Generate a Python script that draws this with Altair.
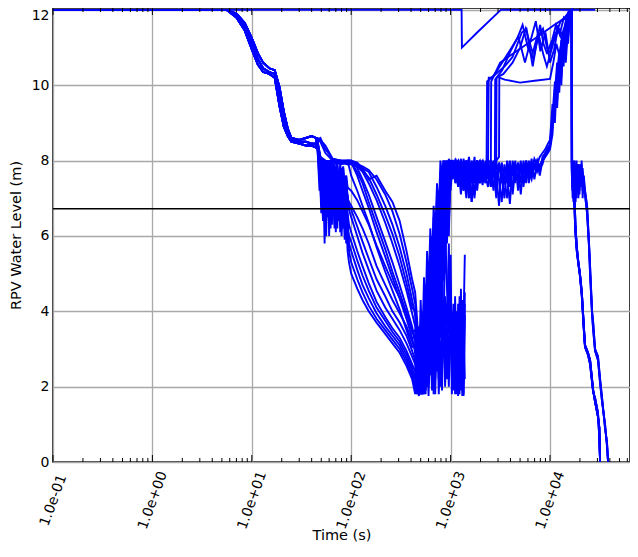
import altair as alt
import pandas as pd

# ---------------- axis / reference values ----------------
x_major = [0.1, 1, 10, 100, 1000, 10000]
x_labels = ["1.0e-01", "1.0e+00", "1.0e+01", "1.0e+02", "1.0e+03", "1.0e+04"]
minor_mults = [2, 3, 4, 5, 6, 7, 8, 9]
y_ticks = [0, 2, 4, 6, 8, 10, 12]
x_domain = [0.1, 63800]
y_domain = [0, 12.05]
ref_level = 6.72

# ---------------- common start of all runs ----------------
t_pre = [0.1, 1, 3, 5.6, 7, 8.5, 10, 11.5, 13, 15, 17, 19, 21, 23, 25, 30, 35, 40, 44]
v_pre_a = [12, 12, 12, 12, 11.85, 11.55, 11.1, 10.7, 10.45, 10.35, 10.3, 9.7, 9.1, 8.75, 8.55, 8.5, 8.5, 8.45, 8.45]
v_pre_b = [12, 12, 12, 12, 11.9, 11.65, 11.25, 10.85, 10.6, 10.45, 10.4, 9.95, 9.3, 8.85, 8.6, 8.55, 8.6, 8.65, 8.6]
v_pre_c = [12, 12, 12, 12, 11.8, 11.45, 10.95, 10.55, 10.35, 10.3, 10.2, 9.45, 8.9, 8.65, 8.5, 8.45, 8.4, 8.4, 8.35]

# ---------------- early noisy drop (46-95 s) ----------------
t_early = [46, 48, 50, 52, 54, 56, 58, 60, 62, 64, 66, 68, 70, 72.5, 75, 77.5, 80, 83, 86, 89, 92, 95]
e1_e = [8.3, 8.0, 6.6, 7.9, 5.8, 7.8, 6.9, 7.7, 6.2, 7.6, 6.8, 7.5, 6.1, 7.3, 6.6, 7.2, 6.0, 6.9, 5.9, 6.4, 5.6, 5.3]
e2_e = [8.2, 7.2, 7.95, 6.4, 7.85, 6.0, 7.9, 6.7, 7.8, 6.3, 7.7, 6.5, 7.6, 6.2, 7.5, 6.4, 7.3, 6.2, 7.0, 6.0, 6.3, 5.8]
e3_e = [8.4, 8.0, 7.0, 8.0, 6.8, 7.95, 6.5, 7.9, 7.0, 7.85, 6.6, 7.8, 6.9, 7.7, 6.4, 7.6, 6.7, 7.4, 6.5, 7.2, 6.6, 6.3]
e4_e = [8.45, 7.6, 8.0, 6.9, 7.95, 7.1, 7.9, 6.4, 7.9, 7.2, 7.85, 6.6, 7.8, 7.0, 7.7, 6.8, 7.6, 6.9, 7.5, 6.8, 7.1, 6.7]
e5_e = [8.35, 8.0, 7.4, 8.0, 7.2, 7.9, 7.5, 8.0, 7.0, 7.95, 7.3, 7.9, 6.8, 7.9, 7.2, 7.85, 7.0, 7.8, 7.1, 7.5, 7.0, 6.9]
e6_e = [8.5, 8.05, 7.7, 8.0, 7.5, 8.0, 7.3, 7.95, 7.6, 8.0, 7.4, 7.9, 7.6, 7.95, 7.3, 7.9, 7.5, 7.85, 7.4, 7.6, 7.3, 7.25]
g1_e = [8.25, 7.5, 8.0, 6.5, 7.9, 6.9, 7.85, 6.0, 7.8, 6.9, 7.7, 6.3, 7.6, 6.7, 7.5, 6.1, 7.4, 6.5, 7.2, 5.8, 6.6, 5.6]
g2_e = [8.4, 7.9, 6.8, 8.0, 7.3, 6.4, 7.95, 7.0, 6.6, 7.9, 7.1, 6.2, 7.8, 6.9, 6.5, 7.7, 6.8, 6.3, 7.5, 6.6, 6.2, 6.0]
g3_e = [8.45, 8.0, 7.6, 7.0, 8.0, 7.4, 6.7, 7.95, 7.5, 6.9, 7.9, 7.2, 6.5, 7.85, 7.3, 6.8, 7.8, 7.1, 6.6, 7.6, 7.0, 6.8]

t_fan0 = [46, 49, 55, 65, 78, 92]
f1_0 = [8.4, 8.0, 7.95, 8.02, 7.9, 7.95]
f2_0 = [8.45, 8.05, 8.0, 7.95, 8.0, 8.0]
f3_0 = [8.5, 8.1, 7.9, 8.0, 7.95, 7.9]
f4_0 = [8.55, 8.6, 8.3, 8.05, 8.0, 8.0]
f5_0 = [8.45, 8.02, 7.98, 7.9, 7.95, 7.95]
f6_0 = [8.6, 8.55, 8.4, 8.05, 8.0, 8.0]
g4_0 = [8.4, 8.05, 7.9, 8.0, 7.95, 8.0]
g5_0 = [8.5, 8.1, 8.0, 7.95, 8.0, 7.9]
g6_0 = [8.55, 8.5, 8.2, 8.0, 7.95, 8.0]

# ---------------- decline (100-410 s) ----------------
t_dec = [100, 115, 130, 150, 180, 220, 260, 307, 360, 410]
e1_d = [5.0, 4.6, 4.3, 4.0, 3.7, 3.4, 3.15, 2.9, 2.55, 2.2]
g1_d = [5.3, 4.85, 4.5, 4.15, 3.8, 3.5, 3.25, 3.0, 2.65, 2.3]
e2_d = [5.6, 5.1, 4.7, 4.35, 3.95, 3.6, 3.35, 3.1, 2.75, 2.4]
g2_d = [5.85, 5.35, 4.95, 4.55, 4.1, 3.75, 3.45, 3.2, 2.85, 2.5]
e3_d = [6.1, 5.6, 5.2, 4.75, 4.25, 3.85, 3.55, 3.3, 2.95, 2.6]
e4_d = [6.5, 6.0, 5.55, 5.1, 4.55, 4.1, 3.8, 3.5, 3.15, 2.8]
g3_d = [6.7, 6.25, 5.85, 5.4, 4.85, 4.4, 4.0, 3.7, 3.35, 2.95]
e5_d = [6.8, 6.5, 6.2, 5.8, 5.2, 4.7, 4.3, 3.95, 3.6, 3.2]
e6_d = [7.2, 6.95, 6.65, 6.3, 5.75, 5.2, 4.75, 4.35, 3.95, 3.5]
g4_d = [7.6, 7.2, 6.8, 6.35, 5.7, 5.05, 4.55, 4.05, 3.5, 3.05]
f1_d = [7.95, 7.6, 7.2, 6.75, 6.1, 5.45, 4.9, 4.35, 3.8, 3.3]
g5_d = [7.95, 7.7, 7.4, 6.9, 6.3, 5.65, 5.05, 4.5, 3.95, 3.45]
f2_d = [8.0, 7.8, 7.5, 7.1, 6.5, 5.85, 5.3, 4.7, 4.1, 3.6]
f3_d = [7.9, 7.85, 7.7, 7.4, 6.95, 6.35, 5.8, 5.2, 4.55, 3.95]
g6_d = [8.0, 7.9, 7.75, 7.55, 7.1, 6.55, 6.05, 5.45, 4.75, 4.1]
f4_d = [8.0, 7.95, 7.8, 7.7, 7.3, 6.8, 6.3, 5.7, 5.0, 4.3]
f5_d = [7.95, 7.9, 7.85, 7.75, 7.5, 7.1, 6.65, 6.05, 5.3, 4.6]
f6_d = [8.0, 7.9, 7.8, 7.5, 7.6, 7.2, 6.9, 6.4, 5.6, 4.85]

# ---------------- refill "V" (440-1000 s) ----------------
t_v = [440, 460, 480, 500, 520, 540, 560, 580, 600, 625, 650, 675, 700, 730, 760, 790, 820, 850, 880, 920, 960, 1000]
e1_v = [1.8, 3.2, 2.4, 4.3, 3.0, 4.9, 3.9, 5.6, 4.5, 6.2, 5.2, 6.8, 6.0, 7.4, 6.6, 8.0, 7.6, 8.0, 7.5, 7.9, 7.4, 7.9]
e2_v = [2.0, 1.8, 3.6, 2.2, 4.0, 2.6, 4.6, 3.2, 5.3, 3.8, 6.0, 4.6, 6.6, 5.4, 7.2, 6.3, 7.8, 7.0, 8.0, 7.6, 8.0, 7.7]
e3_v = [2.4, 1.9, 2.8, 1.8, 3.4, 2.2, 4.2, 2.8, 4.8, 3.5, 5.5, 4.2, 6.2, 5.0, 6.9, 5.8, 7.5, 6.6, 8.0, 7.2, 8.05, 7.6]
e4_v = [2.6, 2.0, 1.75, 2.6, 1.9, 3.0, 2.2, 3.8, 2.6, 4.5, 3.2, 5.2, 3.9, 6.0, 4.7, 6.8, 5.6, 7.5, 6.5, 8.0, 7.3, 7.9]
e5_v = [3.0, 2.3, 1.8, 2.5, 1.9, 3.2, 2.0, 2.8, 1.75, 3.5, 2.1, 3.0, 1.8, 3.8, 2.2, 3.2, 1.9, 4.0, 2.3, 3.5, 2.0, 4.2]
e6_v = [3.2, 2.6, 2.0, 1.8, 2.8, 1.9, 3.4, 2.2, 4.0, 2.5, 3.0, 1.8, 4.4, 2.6, 3.6, 2.0, 4.8, 2.8, 3.9, 2.2, 5.0, 3.0]
f1_v = [2.9, 2.3, 2.0, 3.1, 2.2, 3.9, 2.7, 4.6, 3.3, 5.3, 4.0, 6.1, 4.8, 6.8, 5.7, 7.6, 6.6, 8.0, 7.3, 8.0, 7.5, 7.8]
f2_v = [3.2, 2.5, 1.9, 2.3, 1.8, 2.6, 2.1, 3.3, 2.4, 4.1, 2.9, 4.9, 3.6, 5.7, 4.4, 6.5, 5.3, 7.3, 6.2, 7.9, 7.0, 8.0]
f3_v = [3.6, 2.8, 2.1, 1.8, 2.4, 1.9, 2.9, 2.2, 3.6, 2.6, 4.3, 3.1, 5.1, 3.7, 5.9, 4.5, 6.7, 5.4, 7.5, 6.4, 8.0, 7.5]
f4_v = [3.9, 3.1, 2.4, 2.0, 1.8, 2.3, 1.9, 2.7, 2.1, 3.3, 2.4, 4.0, 2.8, 4.8, 3.4, 5.6, 4.1, 6.4, 5.0, 7.2, 6.0, 7.9]
f5_v = [4.2, 3.4, 2.6, 2.1, 1.9, 2.6, 1.8, 3.0, 2.0, 3.4, 1.9, 2.8, 2.2, 3.9, 1.8, 3.1, 2.4, 4.3, 2.0, 3.6, 2.6, 4.6]
f6_v = [4.5, 3.8, 3.0, 2.4, 2.0, 1.8, 2.5, 2.0, 3.2, 2.3, 3.9, 2.7, 4.6, 3.3, 5.4, 4.0, 6.2, 4.8, 7.0, 5.8, 7.7, 7.2]
g1_v = [2.0, 2.8, 1.8, 3.5, 2.3, 4.4, 2.9, 5.0, 3.6, 5.8, 4.4, 6.5, 5.3, 7.1, 6.1, 7.7, 7.0, 8.0, 7.6, 7.95, 7.5, 7.8]
g2_v = [2.2, 3.0, 2.0, 2.7, 3.9, 2.4, 3.4, 4.8, 2.9, 4.2, 5.6, 3.5, 5.0, 6.4, 4.3, 5.9, 7.1, 5.2, 6.8, 7.7, 6.3, 7.6]
g3_v = [2.7, 2.1, 1.8, 3.0, 2.2, 2.0, 3.6, 2.5, 2.1, 4.3, 2.9, 2.3, 5.0, 3.4, 2.6, 5.7, 4.0, 3.0, 6.3, 4.6, 3.4, 5.5]
g4_v = [3.1, 2.4, 2.0, 2.8, 1.9, 3.5, 2.3, 4.1, 2.8, 4.7, 3.4, 5.4, 4.1, 6.2, 4.9, 7.0, 5.8, 7.6, 6.7, 8.0, 7.2, 7.9]
g5_v = [3.5, 2.7, 2.2, 1.8, 2.6, 2.0, 3.1, 2.4, 2.9, 3.7, 2.6, 4.5, 3.2, 5.2, 3.9, 6.0, 4.7, 6.9, 5.5, 7.6, 6.6, 8.0]
g6_v = [4.0, 3.2, 2.5, 2.0, 1.8, 2.2, 2.8, 2.1, 3.5, 2.7, 4.2, 3.1, 3.8, 2.4, 4.6, 3.3, 5.3, 2.8, 4.4, 3.6, 5.8, 3.2]

# runs that stay low and stop near 1400 s
t_tail = [1030, 1070, 1110, 1150, 1190, 1230, 1270, 1310, 1350, 1390]
e5_t = [2.2, 3.8, 1.8, 3.3, 2.0, 4.1, 1.9, 3.6, 1.75, 4.5]
e6_t = [3.0, 1.9, 4.4, 2.4, 3.9, 1.8, 4.6, 2.2, 3.7, 5.5]
f5_t = [1.8, 3.4, 2.3, 4.0, 1.75, 3.1, 2.0, 4.3, 2.1, 4.2]
g3_t = [2.6, 4.2, 2.0, 3.7, 1.9, 4.4, 2.4, 3.2, 1.8, 3.9]
g6_t = [4.0, 2.1, 3.5, 1.8, 4.2, 2.6, 3.8, 1.75, 4.0, 2.2]

# ---------------- noisy plateau near 8 m (1050-9530 s) ----------------
t_band = [1050, 1120, 1190, 1270, 1350, 1440, 1530, 1630, 1740, 1850, 1970, 2100, 2240, 2380,
          2540, 2700, 2880, 3070, 3270, 3480, 3710, 3950, 4210, 4480, 4770, 5080, 5410, 5760,
          6130, 6530, 6960, 7410, 7890, 8400, 8950, 9530]
e1_b = [7.9, 7.5, 8.0, 7.3, 8.05, 7.6, 7.0, 7.95, 7.4, 8.0, 7.7, 7.35, 8.0, 7.6, 7.9, 7.2, 8.0, 7.5,
        6.9, 7.9, 7.4, 8.0, 7.1, 7.8, 7.5, 8.0, 7.3, 7.9, 7.6, 8.05, 7.5, 7.9, 7.7, 8.1, 8.2, 8.3]
e2_b = [8.0, 7.7, 7.4, 8.0, 7.5, 7.9, 7.8, 6.9, 7.95, 7.6, 8.0, 7.5, 7.8, 8.05, 7.4, 7.9, 7.7, 6.8,
        7.95, 7.5, 7.0, 7.9, 7.6, 8.0, 7.2, 7.9, 7.7, 8.0, 7.4, 7.9, 7.8, 8.0, 7.6, 8.0, 8.1, 8.25]
f1_b = [7.6, 8.05, 7.7, 7.9, 7.2, 8.0, 7.8, 7.4, 8.1, 7.2, 7.9, 8.0, 7.5, 7.9, 7.7, 8.0, 7.3, 7.9,
        7.6, 7.0, 7.9, 7.3, 8.0, 7.6, 7.9, 7.4, 8.0, 7.6, 7.95, 7.7, 8.05, 7.9, 8.1, 8.2, 8.3, 8.45]
f3_b = [7.7, 7.95, 7.4, 7.6, 8.0, 7.3, 7.9, 7.7, 7.1, 7.9, 8.0, 7.6, 7.4, 7.9, 7.6, 7.8, 7.0, 7.95,
        7.7, 7.4, 8.0, 7.6, 7.3, 7.9, 7.8, 7.1, 7.9, 7.4, 8.0, 7.6, 7.8, 8.0, 7.8, 7.9, 8.2, 8.35]
f4_b = [7.8, 7.9, 7.3, 8.0, 7.7, 7.5, 8.1, 7.6, 7.7, 8.0, 7.4, 7.9, 7.6, 7.3, 8.0, 7.6, 7.8, 7.9,
        7.4, 7.8, 7.6, 6.85, 7.9, 7.4, 7.95, 7.7, 7.5, 8.0, 7.7, 7.5, 7.9, 7.7, 7.9, 8.0, 8.1, 8.2]
e4_b = [7.7, 8.0, 7.5, 7.8, 7.9, 7.2, 8.0, 7.6, 7.0, 7.9, 7.5, 8.0, 7.8]
e3_b = [7.9, 7.4, 8.0, 7.7, 7.5, 8.0, 7.3, 7.9, 7.8, 7.4, 8.0, 7.7, 7.5, 7.95]
f6_b = [8.0, 7.6, 7.9, 7.1, 7.8, 8.0, 7.5, 7.9, 7.7, 8.0, 7.4, 7.8, 7.9, 7.5, 8.0, 7.8]
f2_b = [7.8, 8.0, 7.6, 7.9, 7.4, 7.8, 8.05, 7.0, 7.7, 7.9, 7.5, 8.0, 7.6, 7.9, 7.3, 7.9, 8.0]
g1_b = [7.6, 8.0, 7.3, 7.9, 7.7, 7.0, 7.95, 7.5, 7.8, 8.0, 7.4, 7.9, 7.7]
g2_b = [7.9, 7.4, 7.8, 8.05, 7.2, 7.7, 7.9, 6.9, 7.8, 7.6]
g4_b = [7.5, 7.9, 8.0, 7.4, 7.9, 7.6, 7.2, 8.0, 7.7, 7.9, 7.5, 8.0, 7.6, 7.9, 7.3, 7.9]
g5_b = [8.0, 7.6, 7.7, 7.95, 7.5, 8.0, 7.3, 7.8, 7.9, 7.5]

# ---------------- runs jumping to ~10 m ----------------
t_u1 = [2380, 2420, 2600, 3000, 3500, 4200, 5200, 5800, 6700, 7200, 7950, 8600, 9300, 10000,
        11000, 11600, 12800, 14200, 15900, 16600, 16700]
e4_u = [8.05, 10.2, 10.2, 10.35, 10.5, 10.75, 11.4, 11.5, 10.5, 11.0, 11.6, 11.1, 10.85, 10.9,
        11.3, 11.4, 11.7, 11.8, 12.0, 12.0, 7.8]
t_u3 = [2540, 2560, 3150, 5000, 8000, 11000, 13500, 15900, 16600, 16700]
e3_u = [8.0, 10.1, 10.6, 10.97, 11.34, 11.6, 11.75, 11.95, 12.0, 7.9]
t_u4 = [2880, 2900, 3400, 4200, 5000, 5700, 6700, 7600, 8600, 9300, 10500, 12000, 13500, 15500, 16500, 16600]
f6_u = [8.05, 10.2, 10.3, 10.6, 11.0, 11.5, 10.85, 11.4, 10.8, 10.5, 11.0, 11.55, 11.3, 12.0, 12.0, 7.6]
t_u2 = [3070, 3090, 3500, 5000, 7000, 10000, 10800, 11600, 12400, 13500, 14800, 16000, 16500, 16600]
f2_u = [8.1, 10.2, 10.15, 10.07, 10.12, 10.17, 10.6, 11.1, 10.8, 11.4, 11.7, 12.0, 12.0, 7.7]
t_u5 = [2300, 2330, 2700, 3300, 4000, 4700, 5300, 6000, 6800, 7600, 8500, 9500, 10500, 11500,
        12500, 13800, 15000, 16200, 16600, 16700]
g1_u = [7.95, 10.1, 10.25, 10.6, 10.95, 11.25, 11.6, 11.0, 10.7, 11.3, 11.5, 10.9, 11.2, 11.6,
        11.35, 11.8, 11.7, 12.0, 12.0, 7.7]
t_u6 = [2790, 2810, 3300, 4000, 4800, 5600, 6400, 7200, 8000, 9000, 10000, 11000, 12000, 13200,
        14500, 15800, 16500, 16600]
g4_u = [8.0, 10.15, 10.4, 10.9, 11.3, 10.6, 11.2, 11.7, 10.9, 11.4, 10.6, 10.95, 11.5, 11.2,
        11.75, 11.9, 12.0, 7.65]

# ---------------- late rise of plateau runs (10000-16600 s) ----------------
t_rise = [10000, 10600, 11200, 11800, 12400, 13000, 13700, 14400, 15200, 16000, 16500, 16600]
e1_r = [8.45, 9.2, 10.1, 9.6, 10.8, 10.2, 11.3, 10.9, 11.6, 11.95, 12.0, 7.8]
e2_r = [8.35, 8.9, 9.6, 10.4, 9.8, 11.0, 10.5, 11.4, 11.1, 11.9, 12.0, 7.9]
f1_r = [8.55, 9.5, 9.0, 10.3, 10.9, 10.0, 11.5, 11.2, 11.8, 12.0, 12.0, 7.7]
f3_r = [8.4, 9.0, 9.8, 10.6, 10.1, 10.9, 11.1, 10.6, 11.5, 11.9, 12.0, 7.75]
f4_r = [8.3, 8.7, 9.9, 9.4, 10.5, 11.2, 10.7, 11.6, 11.3, 11.9, 12.0, 7.85]

# ---------------- final boil-off ----------------
t_postL = [16900, 17200, 17500]
e1_p = [7.5, 6.9, 7.3]
f4_p = [7.2, 7.7, 6.9]
e4_p = [7.9, 7.1, 7.4]
f6_p = [7.0, 7.6, 7.1]
f3_p = [7.4, 7.0, 7.6]
g1_p = [7.3, 7.8, 7.0]
g4_p = [7.6, 7.2, 7.5]
t_left = [18000, 18600, 19300, 20000, 20900, 21900, 22500, 24100, 25300, 27200, 28400, 30400, 31400, 31900]
v_left_1 = [6.3, 5.7, 5.3, 5.0, 4.5, 3.6, 3.1, 2.9, 2.7, 1.9, 1.6, 1.2, 0.9, 0.0]
v_left_2 = [6.1, 5.6, 5.25, 4.95, 4.4, 3.5, 3.05, 2.85, 2.6, 1.85, 1.7, 1.3, 0.6, 0.0]

t_postR = [16900, 17300, 17700, 18100, 18500, 18900, 19300, 19800, 20300, 20800, 21300, 21900]
e2_p = [7.6, 8.0, 7.1, 7.8, 7.3, 7.9, 7.0, 7.7, 7.4, 8.0, 7.2, 7.6]
f1_p = [7.2, 7.8, 7.5, 6.9, 7.9, 7.4, 7.8, 7.1, 7.9, 7.3, 7.7, 7.4]
e3_p = [7.8, 7.3, 8.0, 7.5, 7.0, 7.7, 7.9, 7.2, 7.6, 7.9, 7.0, 7.5]
f2_p = [7.4, 7.9, 7.2, 7.7, 8.0, 7.1, 7.5, 7.9, 7.3, 7.6, 7.8, 7.3]
t_right = [22500, 23600, 24700, 25300, 26500, 27200, 28400, 30400, 31900, 33400, 35800, 37500, 38400]
v_right_1 = [7.2, 6.8, 5.8, 5.2, 4.0, 3.7, 3.0, 2.8, 2.2, 1.7, 0.9, 0.5, 0.0]
v_right_2 = [7.1, 6.6, 5.7, 5.0, 3.9, 3.5, 2.95, 2.7, 2.1, 1.6, 1.0, 0.4, 0.0]

# ---------------- run staying full ----------------
t_top = [0.1, 1290, 1300, 1850, 3200, 28500]
v_top = [12, 12, 11.0, 11.4, 12, 12]

# ---------------- assemble runs ----------------
runs = {
    "e1": [(t_pre, v_pre_a), (t_early, e1_e), (t_dec, e1_d), (t_v, e1_v), (t_band, e1_b), (t_rise, e1_r), (t_postL, e1_p), (t_left, v_left_1)],
    "e2": [(t_pre, v_pre_b), (t_early, e2_e), (t_dec, e2_d), (t_v, e2_v), (t_band, e2_b), (t_rise, e2_r), (t_postR, e2_p), (t_right, v_right_1)],
    "e3": [(t_pre, v_pre_c), (t_early, e3_e), (t_dec, e3_d), (t_v, e3_v), (t_band, e3_b), (t_u3, e3_u), (t_postR, e3_p), (t_right, v_right_2)],
    "e4": [(t_pre, v_pre_a), (t_early, e4_e), (t_dec, e4_d), (t_v, e4_v), (t_band, e4_b), (t_u1, e4_u), (t_postL, e4_p), (t_left, v_left_1)],
    "e5": [(t_pre, v_pre_b), (t_early, e5_e), (t_dec, e5_d), (t_v, e5_v), (t_tail, e5_t)],
    "e6": [(t_pre, v_pre_c), (t_early, e6_e), (t_dec, e6_d), (t_v, e6_v), (t_tail, e6_t)],
    "g1": [(t_pre, v_pre_b), (t_early, g1_e), (t_dec, g1_d), (t_v, g1_v), (t_band, g1_b), (t_u5, g1_u), (t_postL, g1_p), (t_left, v_left_2)],
    "g2": [(t_pre, v_pre_a), (t_early, g2_e), (t_dec, g2_d), (t_v, g2_v), (t_band, g2_b)],
    "g3": [(t_pre, v_pre_c), (t_early, g3_e), (t_dec, g3_d), (t_v, g3_v), (t_tail, g3_t)],
    "f1": [(t_pre, v_pre_c), (t_fan0, f1_0), (t_dec, f1_d), (t_v, f1_v), (t_band, f1_b), (t_rise, f1_r), (t_postR, f1_p), (t_right, v_right_2)],
    "f2": [(t_pre, v_pre_a), (t_fan0, f2_0), (t_dec, f2_d), (t_v, f2_v), (t_band, f2_b), (t_u2, f2_u), (t_postR, f2_p), (t_right, v_right_1)],
    "f3": [(t_pre, v_pre_b), (t_fan0, f3_0), (t_dec, f3_d), (t_v, f3_v), (t_band, f3_b), (t_rise, f3_r), (t_postL, f3_p), (t_left, v_left_1)],
    "f4": [(t_pre, v_pre_a), (t_fan0, f4_0), (t_dec, f4_d), (t_v, f4_v), (t_band, f4_b), (t_rise, f4_r), (t_postL, f4_p), (t_left, v_left_2)],
    "f5": [(t_pre, v_pre_c), (t_fan0, f5_0), (t_dec, f5_d), (t_v, f5_v), (t_tail, f5_t)],
    "f6": [(t_pre, v_pre_b), (t_fan0, f6_0), (t_dec, f6_d), (t_v, f6_v), (t_band, f6_b), (t_u4, f6_u), (t_postL, f6_p), (t_left, v_left_2)],
    "g4": [(t_pre, v_pre_c), (t_fan0, g4_0), (t_dec, g4_d), (t_v, g4_v), (t_band, g4_b), (t_u6, g4_u), (t_postL, g4_p), (t_left, v_left_1)],
    "g5": [(t_pre, v_pre_a), (t_fan0, g5_0), (t_dec, g5_d), (t_v, g5_v), (t_band, g5_b)],
    "g6": [(t_pre, v_pre_b), (t_fan0, g6_0), (t_dec, g6_d), (t_v, g6_v), (t_tail, g6_t)],
    "full": [(t_top, v_top)],
}

rows = []
for name, segs in runs.items():
    k = 0
    for ts, vs in segs:
        for t, v in zip(ts, vs):
            rows.append({"run": name, "i": k, "t": t, "v": v})
            k += 1
df = pd.DataFrame(rows)

minor_ticks = [m * d for d in x_major for m in minor_mults if m * d < x_domain[1]]
df_minor = pd.DataFrame({"t": minor_ticks})
df_major = pd.DataFrame({"t": x_major})
df_ref = pd.DataFrame({"v": [ref_level]})

W, H = 577, 454
xs = alt.Scale(type="log", domain=x_domain, nice=False)
ys = alt.Scale(domain=y_domain, nice=False, zero=False)

label_expr = "".join(f"datum.value < {v * 3} ? '{lab}' : " for v, lab in zip(x_major[:-1], x_labels[:-1])) + f"'{x_labels[-1]}'"

x_axis = alt.Axis(values=x_major, labelExpr=label_expr, labelAngle=290, labelAlign="center",
                  labelBaseline="middle", labelPadding=38, labelOverlap=False,
                  titleY=77, titleBaseline="alphabetic", grid=True)
y_axis = alt.Axis(values=y_ticks, format="d", labelPadding=4, grid=True,
                  labelOffset={"condition": {"test": "datum.value == 12", "value": 6}, "value": 0},
                  titleX=-37, titleY=H / 2, titleAlign="center", titleBaseline="middle", titleAngle=270)
X = alt.X("t:Q", scale=xs, title="Time (s)", axis=x_axis)
Y = alt.Y("v:Q", scale=ys, title="RPV Water Level (m)", axis=y_axis)

lines = alt.Chart(df).mark_line(color="#0000ff", strokeWidth=1.9, clip=True).encode(
    x=X, y=Y, detail="run:N", order="i:Q"
)

ref = alt.Chart(df_ref).mark_rule(color="black", strokeWidth=1.5).encode(y=Y)

tick_min_bot = alt.Chart(df_minor).mark_rule(color="black", strokeWidth=1).encode(
    x=X, y=alt.value(H), y2=alt.value(H - 4))
tick_maj_bot = alt.Chart(df_major).mark_rule(color="black", strokeWidth=1).encode(
    x=X, y=alt.value(H), y2=alt.value(H - 7))
tick_min_top = alt.Chart(df_minor).mark_rule(color="black", strokeWidth=1).encode(
    x=X, y=alt.value(0), y2=alt.value(4))
tick_maj_top = alt.Chart(df_major).mark_rule(color="black", strokeWidth=1).encode(
    x=X, y=alt.value(0), y2=alt.value(7))

chart = alt.layer(lines, ref, tick_min_bot, tick_maj_bot, tick_min_top, tick_maj_top).properties(
    width=W, height=H,
    autosize=alt.AutoSizeParams(type="none"),
    padding={"left": 45, "top": 0, "right": 0, "bottom": 81},
).configure_view(
    stroke="black", strokeWidth=1.5
).configure_axis(
    labelFont="DejaVu Sans", labelFontSize=14, labelColor="black",
    titleFont="DejaVu Sans", titleFontSize=14.5, titleColor="black", titleFontWeight="normal",
    gridColor="#a8a8a8", gridWidth=1.3, domain=False, ticks=False, tickSize=0,
)

chart.save("out.html", embed_options={"renderer": "svg", "actions": False})
